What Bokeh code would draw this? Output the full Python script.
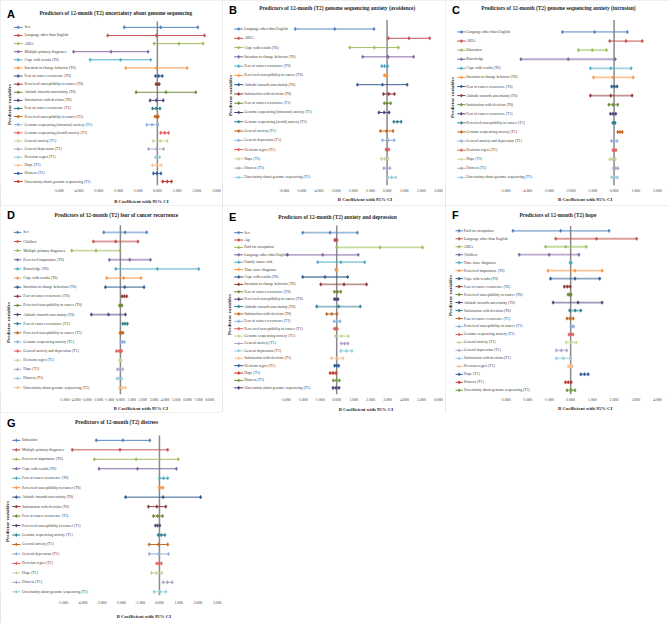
import math
from bokeh.plotting import figure
from bokeh.layouts import column, row
from bokeh.models import Range1d, FixedTicker, PrintfTickFormatter, Label, ColumnDataSource, Title
from bokeh.core.properties import value
from bokeh.embed import file_html
from bokeh.resources import INLINE

# ------------------------------------------------------------------ data
A_letter = "A"
A_title = "Predictors of 12-month (T2) uncertainty about genome sequencing"
A_labels = ["Sex", "Language other than English", "ARIA", "Multiple primary diagnoses",
            "Cope with results (T0)", "Intention to change behavior (T0)",
            "Fear of cancer recurrence (T0)", "Perceived susceptibility to cancer (T0)",
            "Attitude towards uncertainty (T0)", "Satisfaction with decision (T0)",
            "Fear of cancer recurrence (T1)", "Perceived susceptibility to cancer (T1)",
            "Genome sequencing (intrusion) anxiety (T1)", "Genome sequencing (avoid) anxiety (T1)",
            "General anxiety (T1)", "General depression (T1)", "Decision regret (T1)",
            "Hope (T1)", "Distress (T1)", "Uncertainty about genome sequencing (T1)"]
A_low = [-1.68, -2.52, -0.17, -4.25, -3.41, -1.60, -0.10, -0.07, -1.08, -0.37,
         -0.24, -0.12, -0.54, 0.17, -0.22, -0.45, -0.10, -0.25, -0.20, 0.27]
A_est = [0.17, -0.05, 1.09, -2.35, -1.87, -0.05, 0.07, 0.02, 0.44, -0.05,
         -0.07, -0.03, -0.27, 0.37, 0.15, -0.05, 0.02, -0.03, -0.03, 0.50]
A_high = [2.05, 2.39, 2.32, -0.47, -0.34, 1.51, 0.25, 0.10, 1.95, 0.30,
          0.13, 0.05, 0.03, 0.57, 0.50, 0.32, 0.12, 0.20, 0.18, 0.72]
A_ticks = [-5, -4, -3, -2, -1, 0, 1, 2, 3]

B_letter = "B"
B_title = "Predictors of 12-month (T2) genome sequencing anxiety (avoidence)"
B_labels = ["Language other than English", "ARIA", "Cope with results (T0)",
            "Intention to change behavior (T0)", "Fear of cancer recurrence (T0)",
            "Perceived susceptibility to cancer (T0)", "Attitude towards uncertainty (T0)",
            "Satisfaction with decision (T0)", "Fear of cancer recurrence (T1)",
            "Genome sequencing (intrusion) anxiety (T1)", "Genome sequencing (avoid) anxiety (T1)",
            "General anxiety (T1)", "General depression (T1)", "Decision regret (T1)",
            "Hope (T1)", "Distress (T1)", "Uncertainty about genome sequencing (T1)"]
B_low = [-5.36, 0.08, -2.17, -1.42, -0.31, -0.16, -1.73, -0.21, -0.16, -0.47,
         0.39, -0.39, -0.27, -0.06, -0.33, -0.19, 0.04]
B_est = [-3.05, 1.28, -0.74, 0.06, -0.14, -0.08, -0.27, 0.10, 0.00, -0.17,
         0.60, -0.04, 0.06, 0.02, -0.14, -0.02, 0.27]
B_high = [-0.76, 2.49, 0.66, 1.55, 0.04, 0.00, 1.17, 0.43, 0.21, 0.12,
          0.82, 0.35, 0.41, 0.10, 0.06, 0.17, 0.50]
B_ticks = [-6, -5, -4, -3, -2, -1, 0, 1, 2, 3]

C_letter = "C"
C_title = "Predictors of 12-month (T2) genome sequencing anxiety (intrusion)"
C_labels = ["Language other than English", "ARIA", "Education", "Knowledge",
            "Cope with results (T0)", "Intention to change behavior (T0)",
            "Fear of cancer recurrence (T0)", "Attitude towards uncertainty (T0)",
            "Satisfaction with decision (T0)", "Fear of cancer recurrence (T1)",
            "Perceived susceptibility to cancer (T1)", "Genome sequencing anxiety (T1)",
            "General anxiety and depression (T1)", "Decision regret (T1)", "Hope (T1)",
            "Distress (T1)", "Uncertainty about genome sequencing (T1)"]
C_low = [-2.38, -0.20, -1.64, -4.29, -1.09, -0.95, -0.11, -1.09, -0.24, -0.17,
         -0.06, 0.17, -0.12, -0.05, -0.20, -0.03, -0.11]
C_est = [-0.89, 0.55, -1.00, -2.11, -0.15, -0.05, 0.02, -0.15, -0.05, -0.05,
         0.00, 0.27, 0.00, 0.02, -0.08, 0.08, 0.02]
C_high = [0.61, 1.30, -0.35, 0.06, 0.79, 0.88, 0.14, 0.83, 0.17, 0.08,
          0.05, 0.38, 0.14, 0.09, 0.06, 0.18, 0.15]
C_ticks = [-5, -4, -3, -2, -1, 0, 1, 2]

D_letter = "D"
D_title = "Predictors of 12-month (T2) fear of cancer recurrence"
D_labels = ["Sex", "Children", "Multiple primary diagnoses", "Perceived importance (T0)",
            "Knowledge (T0)", "Cope with results (T0)", "Intention to change behaviour (T0)",
            "Fear of cancer recurrence (T0)", "Perceived susceptibility to cancer (T0)",
            "Attitude towards uncertainty (T0)", "Fear of cancer recurrence (T1)",
            "Perceived susceptibility to cancer (T1)", "Genome sequencing anxiety (T1)",
            "General anxiety and depression (T1)", "Decision regret (T1)", "Hope (T1)",
            "Distress (T1)", "Uncertainty about genome sequencing (T1)"]
D_low = [-1.49, -2.42, -4.36, -0.99, -0.42, -1.22, -1.34, 0.15, -0.09, -2.60,
         0.21, -0.03, 0.03, -0.36, -0.09, -0.27, -0.30, -0.09]
D_est = [0.42, -0.42, -2.18, 0.84, 3.31, 0.30, 0.39, 0.36, 0.03, -1.07,
         0.42, 0.09, 0.18, -0.12, 0.00, -0.03, -0.09, 0.18]
D_high = [2.36, 1.58, -0.03, 2.69, 7.01, 1.85, 2.12, 0.57, 0.15, 0.45,
          0.63, 0.24, 0.36, 0.12, 0.09, 0.21, 0.12, 0.45]
D_ticks = [-5, -4, -3, -2, -1, 0, 1, 2, 3, 4, 5, 6, 7, 8]

E_letter = "E"
E_title = "Predictors of 12-month (T2) anxiety and depression"
E_labels = ["Sex", "Age", "Paid for occupation", "Language other than English",
            "Family cancer risk", "Time since diagnosis", "Cope with results (T0)",
            "Intention to change behavior (T0)", "Fear of cancer recurrence (T0)",
            "Perceived susceptibility to cancer (T0)", "Attitude towards uncertainty (T0)",
            "Satisfaction with decision (T0)", "Fear of cancer recurrence (T1)",
            "Perceived susceptibility to cancer (T1)", "Genome sequencing anxiety (T1)",
            "General anxiety (T1)", "General depression (T1)", "Satisfaction with decision (T1)",
            "Decision regret (T1)", "Hope (T1)", "Distress (T1)",
            "Uncertainty about genome sequencing (T1)"]
E_low = [-2.00, -0.12, 0.00, -2.90, -1.12, -0.06, -2.00, -0.94, -0.14, -0.14, -1.18,
         -0.59, -0.16, -0.14, -0.08, 0.27, 0.24, -0.31, -0.12, -0.39, -0.20, -0.22]
E_est = [-0.39, -0.06, 2.55, -0.82, 0.25, -0.02, -0.69, 0.43, 0.04, -0.04, 0.12,
         -0.29, 0.02, -0.06, 0.29, 0.47, 0.57, 0.04, 0.00, -0.22, -0.02, -0.04]
E_high = [1.22, 0.02, 5.06, 1.27, 1.65, 0.02, 0.65, 1.76, 0.24, 0.08, 1.39,
          0.02, 0.20, 0.04, 0.69, 0.67, 0.90, 0.37, 0.12, -0.04, 0.16, 0.14]
E_ticks = [-3, -2, -1, 0, 1, 2, 3, 4, 5, 6]

F_letter = "F"
F_title = "Predictors of 12-month (T2) hope"
F_labels = ["Paid for occupation", "Language other than English", "ARIA", "Children",
            "Time since diagnosis", "Perceived importance (T0)", "Cope with results (T0)",
            "Fear of cancer recurrence (T0)", "Perceived susceptibility to cancer (T0)",
            "Attitude towards uncertainty (T0)", "Satisfaction with decision (T0)",
            "Fear of cancer recurrence (T1)", "Perceived susceptibility to cancer (T1)",
            "Genome sequencing anxiety (T1)", "General anxiety (T1)", "General depression (T1)",
            "Satisfaction with decision (T1)", "Decision regret (T1)", "Hope (T1)",
            "Distress (T1)", "Uncertainty about genome sequencing (T1)"]
F_low = [-2.66, -0.69, -1.16, -2.37, -0.03, -1.05, -0.93, -0.29, -0.12, -0.81, -0.05,
         -0.17, 0.00, -0.08, -0.20, -0.66, -0.66, -0.11, 0.47, -0.24, -0.17]
F_est = [-0.46, 1.19, -0.23, -0.99, 0.00, 0.20, 0.20, -0.15, -0.05, 0.34, 0.21,
         -0.03, 0.06, 0.02, 0.02, -0.43, -0.34, -0.02, 0.64, -0.11, 0.02]
F_high = [1.77, 3.04, 0.72, 0.38, 0.03, 1.45, 1.34, -0.02, 0.03, 1.45, 0.47,
          0.12, 0.14, 0.11, 0.26, -0.18, 0.00, 0.08, 0.81, 0.03, 0.20]
F_ticks = [-3, -2, -1, 0, 1, 2, 3, 4]

G_letter = "G"
G_title = "Predictors of 12-month (T2) distress"
G_labels = ["Education", "Multiple primary diagnoses", "Perceived importance (T0)",
            "Cope with results (T0)", "Fear of cancer recurrence (T0)",
            "Perceived susceptibility to cancer (T0)", "Attitude towards uncertainty (T0)",
            "Satisfaction with decision (T0)", "Fear of cancer recurrence (T1)",
            "Perceived susceptibility to cancer (T1)", "Genome sequencing anxiety (T1)",
            "General anxiety (T1)", "General depression (T1)", "Decision regret (T1)",
            "Hope (T1)", "Distress (T1)", "Uncertainty about genome sequencing (T1)"]
G_low = [-3.28, -4.53, -3.38, -3.14, 0.00, -0.02, -1.76, -0.57, -0.31, -0.21,
         -0.07, -0.53, -0.53, -0.14, -0.41, 0.19, -0.28]
G_est = [-1.90, -2.05, -1.21, -1.14, 0.21, 0.09, 0.19, -0.14, -0.09, -0.10,
         0.10, -0.05, -0.03, -0.02, -0.17, 0.41, 0.03]
G_high = [-0.50, 0.43, 0.98, 0.88, 0.43, 0.19, 2.14, 0.33, 0.16, 0.02,
          0.28, 0.43, 0.47, 0.10, 0.12, 0.66, 0.34]
G_ticks = [-5, -4, -3, -2, -1, 0, 1, 2, 3]

X_TITLE = "B Coefficient with 95% CI"
Y_TITLE = "Predictor variables"

# ------------------------------------------------------------------ style
PALETTE = ["#4F81BD", "#C0504D", "#9BBB59", "#8064A2", "#4BACC6", "#F79646",
           "#2C5A8C", "#8C3836", "#6B8A34", "#553F79", "#2E7F93", "#C2661E",
           "#8EB0DA", "#E0605D", "#C3D69B", "#B3A2C7", "#93CDDD", "#FAC090",
           "#2E5A9E", "#C8302C", "#6E9A3A", "#4E3C78", "#2F8099", "#C9712C"]
SERIF = "Liberation Serif"
XT_WIDTH = 57  # approx. pixel width of the x-axis title text

# layout per panel (pixels): W,H size, t tick-label standoff, s x-title standoff,
# rt/rb first/last row, zt zero-line top, L/R pixel of first/last tick,
# k0/k1 legend key, lx label start, tx/ty title, ly letter y, yx/yy y-title, lw/la line width/alpha
LAY = {
    "A": dict(W=222, H=205, t=3, s=4, rt=27.0, rb=182.0, zt=21.0, L=58.3, R=216.0, k0=13.3, k1=22.0, lx=24.0,
              tx=115.3, ty=13.0, ly=14.5, yx=9.0, yy=105, lw=1.0, la=0.95),
    "B": dict(W=223, H=205, t=3, s=0, rt=29.3, rb=181.7, zt=20.0, L=61.7, R=216.0, k0=11.7, k1=20.7, lx=21.7,
              tx=114.7, ty=12.7, ly=14.5, yx=7.5, yy=100, lw=1.0, la=0.95),
    "C": dict(W=224, H=205, t=3, s=0, rt=32.3, rb=181.7, zt=20.0, L=60.0, R=212.0, k0=11.7, k1=20.0, lx=20.7,
              tx=113.0, ty=12.7, ly=14.5, yx=7.3, yy=102, lw=1.8, la=0.55),
    "D": dict(W=222, H=207, t=3, s=0, rt=27.3, rb=185.0, zt=20.0, L=64.0, R=209.3, k0=13.3, k1=20.7, lx=22.7,
              tx=116.0, ty=12.7, ly=12.5, yx=8.3, yy=120, lw=1.8, la=0.55),
    "E": dict(W=223, H=207, t=3, s=2, rt=27.3, rb=183.3, zt=20.0, L=63.3, R=216.0, k0=11.7, k1=20.7, lx=21.7,
              tx=115.0, ty=12.0, ly=12.5, yx=7.3, yy=110, lw=1.8, la=0.55),
    "F": dict(W=224, H=207, t=3, s=0, rt=25.7, rb=187.7, zt=20.7, L=60.0, R=212.0, k0=10.0, k1=17.3, lx=18.3,
              tx=112.5, ty=12.0, ly=12.5, yx=5.0, yy=93, lw=1.8, la=0.55),
    "G": dict(W=222, H=211, t=5, s=10, rt=28.0, rb=180.3, zt=23.0, L=62.7, R=216.7, k0=11.7, k1=20.0, lx=21.5,
              tx=116.0, ty=10.7, ly=11.5, yx=6.7, yy=110, lw=1.0, la=0.95),
}


def make_panel(letter, title, labels, low, est, high, ticks, lay):
    n = len(labels)
    W, H = lay["W"], lay["H"]
    BB = int(math.ceil(lay["t"] + 11.9 + lay["s"]))
    FH = H - BB
    tmin, tmax = ticks[0], ticks[-1]
    ppx = (lay["R"] - lay["L"]) / (tmax - tmin)
    x0 = tmin - lay["L"] / ppx
    x1 = tmax + (W - lay["R"]) / ppx
    ppy = (lay["rb"] - lay["rt"]) / (n - 1)
    y_top = 1 - lay["rt"] / ppy
    y_bot = n + (FH - lay["rb"]) / ppy

    p = figure(width=W, height=H, x_range=Range1d(x0, x1), y_range=Range1d(y_bot, y_top),
               output_backend="svg", toolbar_location=None, y_axis_location=None,
               min_border_left=0, min_border_right=0, min_border_top=0, min_border_bottom=BB)
    p.outline_line_color = None
    p.background_fill_color = "white"
    p.border_fill_color = "white"
    p.grid.visible = False
    p.styles = {"outline": "1px solid #dedede", "outline-offset": "-1px"}

    ax = p.xaxis[0]
    ax.ticker = FixedTicker(ticks=ticks)
    ax.formatter = PrintfTickFormatter(format="%.3f")
    ax.axis_line_color = None
    ax.major_tick_line_color = None
    ax.minor_tick_line_color = None
    ax.major_tick_out = 0
    ax.major_tick_in = 0
    ax.major_label_standoff = lay["t"]
    ax.major_label_text_font = SERIF
    ax.major_label_text_font_size = "3.8px"
    ax.major_label_text_color = "#404040"

    # x-axis title, centred under the tick range
    p.add_layout(Title(text=X_TITLE, align="left", offset=(lay["L"] + lay["R"]) / 2 + 5 - XT_WIDTH / 2,
                       vertical_align="bottom", standoff=lay["s"], text_font=SERIF, text_font_style="bold",
                       text_font_size="4.8px", text_color="#262626"), "below")

    ys = list(range(1, n + 1))
    cols = [PALETTE[i % len(PALETTE)] for i in range(n)]
    src = ColumnDataSource(dict(y=ys, low=low, est=est, high=high, color=cols, label=labels))

    # zero reference line
    p.segment(x0=0, x1=0, y0=1 - (lay["rt"] - lay["zt"]) / ppy, y1=y_bot,
              line_color="#8a8a8a", line_width=1.5)

    # error bars
    p.segment(x0="low", x1="high", y0="y", y1="y", line_color="color",
              line_width=lay["lw"], line_alpha=lay["la"], source=src)
    for col in ("low", "est", "high"):
        p.scatter(x=col, y="y", marker="diamond", size=3.6, fill_color="color",
                  line_color="color", line_width=0.5, source=src)

    # legend keys and labels
    kx0 = x0 + lay["k0"] / ppx
    kx1 = x0 + lay["k1"] / ppx
    lx = x0 + lay["lx"] / ppx
    p.segment(x0=kx0, x1=kx1, y0="y", y1="y", line_color="color", line_width=1.0, source=src)
    p.scatter(x=(kx0 + kx1) / 2, y="y", marker="diamond", size=3.2, fill_color="color",
              line_color="color", line_width=0.5, source=src)
    p.text(x=lx, y="y", text="label", text_font=value(SERIF), text_font_size=value("3.8px"),
           text_baseline="middle", text_align="left", text_color="#404040", source=src)

    # titles
    p.add_layout(Label(x=6.5, y=FH - lay["ly"], x_units="screen", y_units="screen", text=letter,
                       text_font="Liberation Sans", text_font_style="bold", text_font_size="11px",
                       text_baseline="middle", text_align="left", text_color="#000000"))
    p.add_layout(Label(x=lay["tx"], y=FH - lay["ty"], x_units="screen", y_units="screen", text=title,
                       text_font=SERIF, text_font_style="bold", text_font_size="5.4px",
                       text_baseline="middle", text_align="center", text_color="#262626"))
    p.add_layout(Label(x=lay["yx"], y=FH - lay["yy"], x_units="screen", y_units="screen", text=Y_TITLE,
                       angle=math.pi / 2, text_font=SERIF, text_font_style="bold", text_font_size="5px",
                       text_baseline="middle", text_align="center", text_color="#262626"))
    return p


pA = make_panel(A_letter, A_title, A_labels, A_low, A_est, A_high, A_ticks, LAY["A"])
pB = make_panel(B_letter, B_title, B_labels, B_low, B_est, B_high, B_ticks, LAY["B"])
pC = make_panel(C_letter, C_title, C_labels, C_low, C_est, C_high, C_ticks, LAY["C"])
pD = make_panel(D_letter, D_title, D_labels, D_low, D_est, D_high, D_ticks, LAY["D"])
pE = make_panel(E_letter, E_title, E_labels, E_low, E_est, E_high, E_ticks, LAY["E"])
pF = make_panel(F_letter, F_title, F_labels, F_low, F_est, F_high, F_ticks, LAY["F"])
pG = make_panel(G_letter, G_title, G_labels, G_low, G_est, G_high, G_ticks, LAY["G"])

layout = column(row(pA, pB, pC), row(pD, pE, pF), row(pG))
open("out.html", "w").write(file_html(layout, INLINE))
